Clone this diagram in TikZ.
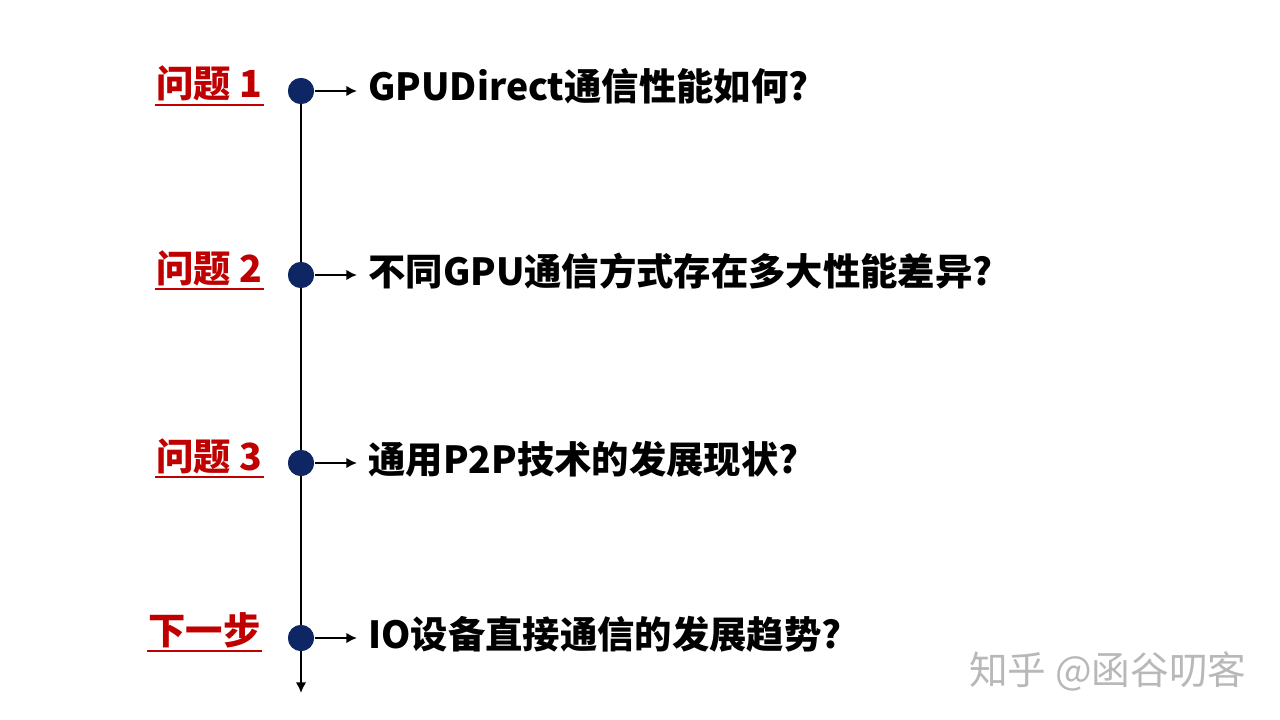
\documentclass[tikz,border=0pt]{standalone}
\usepackage{fontspec}
\newfontfamily\cjk{Noto Sans CJK SC}
\usepackage{tikz}
\usetikzlibrary{arrows.meta}
\usetikzlibrary{positioning}
\definecolor{qred}{RGB}{192,0,0}
\definecolor{dotblue}{RGB}{14,38,100}
\tikzset{
    dot/.style={
           circle,
           fill=dotblue,
           minimum size=19.5pt,
           inner sep=0pt,
           },
    question/.style={
           anchor=base east,
           inner sep=0pt,
           text=qred,
           font=\cjk\bfseries\fontsize{28}{32}\selectfont,
           },
    answer/.style={
           anchor=base west,
           inner sep=0pt,
           font=\cjk\bfseries\fontsize{28}{32}\selectfont,
           },
    uline/.style={qred, line width=1.6pt},
}

\begin{document}
\begin{tikzpicture}[x=0.75pt,y=-0.75pt,line width=2.2pt,>={Latex[length=8pt,width=8pt]}]

 % canvas, same size as the slide
 \useasboundingbox (0,0) rectangle (1280,720);

 % dots on the time line
 \node[dot] (Dot 1) at (301,91) {};
 \node[dot] (Dot 2) at (301,275) {};
 \node[dot] (Dot 3) at (301,463) {};
 \node[dot] (Dot 4) at (301,638) {};
 \coordinate (Line End) at (301,693);

 % questions on the left (red, underlined)
 \node[question] (Question 1) at (264,98) {问题 1};
 \node[question] (Question 2) at (264,282) {问题 2};
 \node[question] (Question 3) at (264,470) {问题 3};
 \node[question] (Next Step) at (262,644) {下一步};

 % texts on the right
 \node[answer] (Answer 1) at (367,101) {GPUDirect通信性能如何?};
 \node[answer] (Answer 2) at (367,285) {不同GPU通信方式存在多大性能差异?};
 \node[answer] (Answer 3) at (367,473) {通用P2P技术的发展现状?};
 \node[answer] (Answer 4) at (367,648) {IO设备直接通信的发展趋势?};

 % watermark
 \node[anchor=base east,inner sep=0pt,text=black!28,
  font=\cjk\fontsize{29}{32}\selectfont] (Mark) at (1248,684) {知乎 @函谷叨客};

 % time line
 \draw[->] (Dot 1.center) -- (Line End);

 % underlines
 \draw[uline] ([yshift=-5pt]Question 1.base west) -- ([yshift=-5pt]Question 1.base east);
 \draw[uline] ([yshift=-5pt]Question 2.base west) -- ([yshift=-5pt]Question 2.base east);
 \draw[uline] ([yshift=-5pt]Question 3.base west) -- ([yshift=-5pt]Question 3.base east);
 \draw[uline] ([yshift=-5pt]Next Step.base west) -- ([yshift=-5pt]Next Step.base east);

 % arrows from the dots to the texts
 \draw[->] (Dot 1) -- ([xshift=-7.5pt]Answer 1.west |- Dot 1);
 \draw[->] (Dot 2) -- ([xshift=-7.5pt]Answer 2.west |- Dot 2);
 \draw[->] (Dot 3) -- ([xshift=-7.5pt]Answer 3.west |- Dot 3);
 \draw[->] (Dot 4) -- ([xshift=-7.5pt]Answer 4.west |- Dot 4);

 % dots again on top of the line
 \node[dot] at (Dot 1) {};
 \node[dot] at (Dot 2) {};
 \node[dot] at (Dot 3) {};
 \node[dot] at (Dot 4) {};

\end{tikzpicture}
\end{document}
